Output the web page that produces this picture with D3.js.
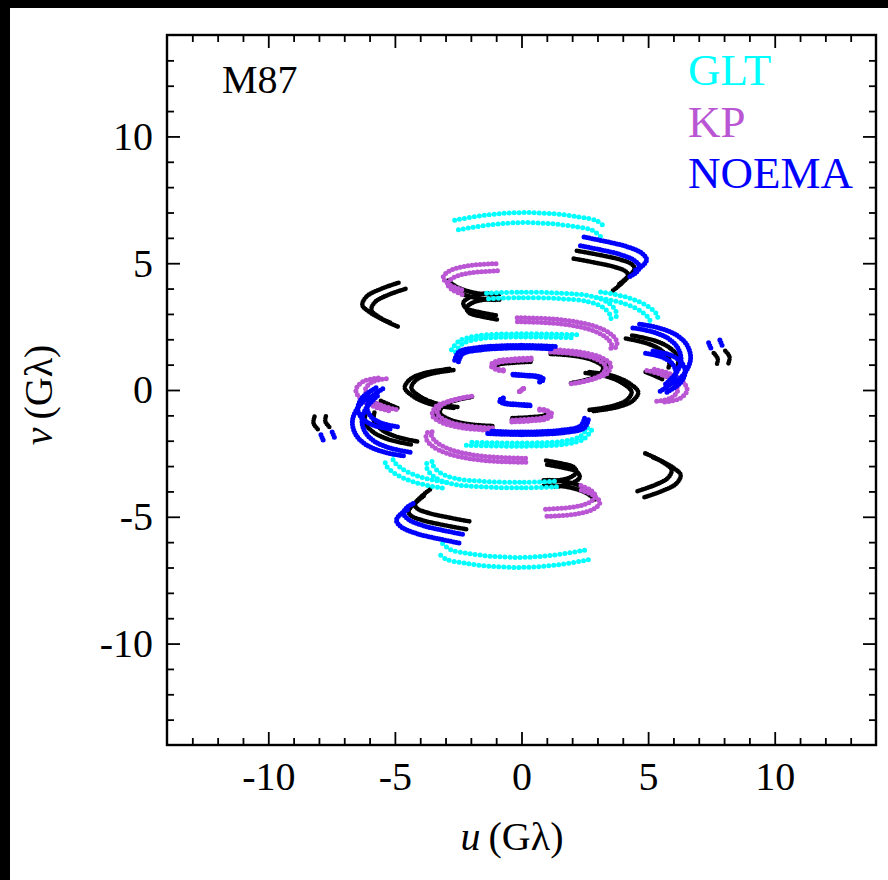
<!DOCTYPE html>
<html>
<head>
<meta charset="utf-8">
<script src="https://cdn.jsdelivr.net/npm/d3@7"></script>
<style>
  html, body { margin: 0; padding: 0; background: #fff; }
  svg { display: block; }
</style>
</head>
<body>
<svg id="chart" width="888" height="880"></svg>
<script>
// uv tracks of M87 (u, v in Gλ). Each track is listed once; its Hermitian
// conjugate (-u, -v) and the second observing band are drawn from it.

// Tick labels
const majorTicks = [-10, -5, 0, 5, 10];
const minorTicks = [-13, -12, -11, -9, -8, -7, -6, -4, -3, -2, -1, 1, 2, 3, 4, 6, 7, 8, 9, 11, 12, 13];

// Relative uv scale of the two frequency bands
const bandScale = [1, 1.06];

// Baselines between existing stations (black)
const base1 = [[2.06,5.18],[2.92,5.02],[3.64,4.86],[4.11,4.68],[4.21,4.51],[3.95,4.20],[3.60,3.91]];
const base2 = [[-4.58,3.99],[-5.26,3.75],[-5.77,3.48],[-5.93,3.16],[-5.65,2.89],[-5.14,2.61],[-4.86,2.49]];
const base3 = [[-2.73,4.07],[-2.41,3.83],[-1.86,3.64],[-1.23,3.56],[-0.83,3.56]];
const base4 = [[-1.26,3.60],[-1.94,3.44],[-2.17,3.24],[-2.06,3.04],[-1.54,2.89],[-0.91,2.77]];
const base5 = [[2.53,0.67],[3.44,0.51],[4.03,0.24],[4.35,-0.08],[4.15,-0.40],[3.60,-0.63],[2.65,-0.79]];
const base6 = [[1.15,1.42],[2.13,1.34],[2.85,1.16],[3.22,0.91],[3.10,0.62],[2.57,0.40],[1.90,0.26]];
const base7 = [[4.12,2.03],[4.95,1.84],[5.52,1.57],[5.83,1.22],[5.80,0.85]];
const base8 = [[4.90,0.71],[5.38,0.51],[5.60,0.40]];
const base9 = [[7.59,1.46],[7.75,1.23],[7.71,0.99]];
const base10 = [[0.36,1.11],[-0.36,1.07],[-0.91,1.00],[-1.07,0.87]];

// Baselines to GLT
const glt1 = [[-2.49,6.32],[-1.23,6.52],[-0.04,6.60],[1.15,6.56],[2.13,6.44],[2.81,6.29],[3.12,6.05]];
const glt2 = [[-1.30,3.60],[-0.04,3.64],[1.54,3.60],[2.65,3.48],[3.24,3.24],[3.52,2.92],[3.52,2.65]];
const glt3 = [[2.95,3.65],[3.99,3.43],[4.74,3.09],[5.07,2.76],[5.04,2.54]];
const glt4 = [[-2.61,1.50],[-2.33,1.82],[-1.62,2.02],[-0.04,2.09],[2.06,2.06]];

// Baselines to KP
const kp1 = [[-0.95,4.70],[-2.02,4.62],[-2.69,4.43],[-2.92,4.19],[-2.73,3.95],[-2.21,3.72]];
const kp2 = [[-0.16,2.69],[1.54,2.61],[2.73,2.37],[3.32,2.09],[3.56,1.78],[3.50,1.58]];
const kp3 = [[1.15,1.50],[2.13,1.42],[2.92,1.23],[3.32,0.95],[3.20,0.63],[2.65,0.40],[1.94,0.24]];
const kp4 = [[0.36,1.19],[-0.36,1.15],[-0.95,1.07],[-1.15,0.91],[-0.95,0.79],[-0.67,0.75]];
const kp5 = [[-0.08,-0.06],[0.10,0.08]];
const kp6 = [[4.95,0.77],[5.52,0.61],[5.98,0.35],[6.17,0.00],[5.91,-0.31],[5.22,-0.46]];

// Baselines to NOEMA
const noema1 = [[2.33,5.69],[3.12,5.53],[3.91,5.34],[4.47,5.10],[4.66,4.86],[4.51,4.62],[4.19,4.43]];
const noema2 = [[-2.49,1.11],[-2.33,1.42],[-1.62,1.58],[-0.04,1.66],[1.26,1.62]];
const noema3 = [[-0.32,0.59],[0.24,0.55],[0.63,0.51],[0.83,0.40],[0.63,0.28]];
const noema4 = [[4.40,2.45],[5.15,2.30],[5.80,2.03],[6.18,1.65],[6.30,1.16],[6.10,0.66],[5.65,0.20]];
const noema5 = [[4.90,1.45],[5.55,1.30],[5.95,1.04],[6.10,0.69],[5.92,0.27],[5.42,-0.08]];
const noema6 = [[7.39,1.86],[7.51,1.58]];

const baseTracks = [base1, base2, base3, base4, base5, base6, base7, base8, base9, base10];
const gltTracks = [glt1, glt2, glt3, glt4];
const kpTracks = [kp1, kp2, kp3, kp4, kp5, kp6];
const noemaTracks = [noema1, noema2, noema3, noema4, noema5, noema6];

const legendNames = ["GLT", "KP", "NOEMA"];
const legendColors = ["#00ffff", "#ba55d3", "#0000ff"];

const W = 888, H = 880;
const svg = d3.select("#chart");
const serif = "'Liberation Serif', 'DejaVu Serif', serif";

svg.append("rect").attr("width", W).attr("height", H).attr("fill", "#fff");
// dark edge strips
svg.append("rect").attr("x", 0).attr("y", 0).attr("width", W).attr("height", 8).attr("fill", "#000");
svg.append("rect").attr("x", 0).attr("y", 0).attr("width", 10).attr("height", H).attr("fill", "#000");

const x = d3.scaleLinear().domain([-14, 14]).range([167, 876]);
const y = d3.scaleLinear().domain([-14, 14]).range([745, 35]);

svg.append("clipPath").attr("id", "plot-clip")
  .append("rect")
  .attr("x", x(-14)).attr("y", y(14))
  .attr("width", x(14) - x(-14)).attr("height", y(-14) - y(14));

const line = d3.line()
  .x(d => x(d[0]))
  .y(d => y(d[1]))
  .curve(d3.curveCatmullRom.alpha(0.5));

const layers = [
  { tracks: baseTracks, color: "#000000", width: 4.6, gap: 2.0 },
  { tracks: gltTracks, color: legendColors[0], width: 5.0, gap: 5.0 },
  { tracks: kpTracks, color: legendColors[1], width: 5.0, gap: 4.0 },
  { tracks: noemaTracks, color: legendColors[2], width: 5.0, gap: 2.8 }
];

const plot = svg.append("g").attr("clip-path", "url(#plot-clip)");

layers.forEach(layer => {
  const paths = [];
  layer.tracks.forEach(t => {
    bandScale.forEach(s => {
      [1, -1].forEach(sign => {
        paths.push(t.map(([u, v]) => [sign * s * u, sign * s * v]));
      });
    });
  });
  plot.append("g")
    .selectAll("path")
    .data(paths)
    .join("path")
    .attr("d", line)
    .attr("fill", "none")
    .attr("stroke", layer.color)
    .attr("stroke-width", layer.width)
    .attr("stroke-linecap", "round")
    .attr("stroke-dasharray", `0 ${layer.gap}`);
});

// Axes with inward ticks on all four sides
const fmt = d => String(d);
function styleAxis(g) {
  g.select(".domain").remove();
  g.selectAll(".tick line").attr("stroke", "#000").attr("stroke-width", 1.8);
  g.selectAll(".tick text")
    .attr("fill", "#000")
    .style("font-family", serif)
    .style("font-size", "40px");
}

const x0 = x(-14), x1 = x(14), y0 = y(-14), y1 = y(14);

svg.append("g").attr("transform", `translate(0,${y0})`)
  .call(d3.axisBottom(x).tickValues(majorTicks).tickSize(-13).tickPadding(17).tickFormat(fmt))
  .call(styleAxis);
svg.append("g").attr("transform", `translate(0,${y0})`)
  .call(d3.axisBottom(x).tickValues(minorTicks).tickSize(-7).tickFormat(""))
  .call(styleAxis);

svg.append("g").attr("transform", `translate(0,${y1})`)
  .call(d3.axisTop(x).tickValues(majorTicks).tickSize(-13).tickFormat(""))
  .call(styleAxis);
svg.append("g").attr("transform", `translate(0,${y1})`)
  .call(d3.axisTop(x).tickValues(minorTicks).tickSize(-7).tickFormat(""))
  .call(styleAxis);

svg.append("g").attr("transform", `translate(${x0},0)`)
  .call(d3.axisLeft(y).tickValues(majorTicks).tickSize(-13).tickPadding(14).tickFormat(fmt))
  .call(styleAxis);
svg.append("g").attr("transform", `translate(${x0},0)`)
  .call(d3.axisLeft(y).tickValues(minorTicks).tickSize(-7).tickFormat(""))
  .call(styleAxis);

svg.append("g").attr("transform", `translate(${x1},0)`)
  .call(d3.axisRight(y).tickValues(majorTicks).tickSize(-13).tickFormat(""))
  .call(styleAxis);
svg.append("g").attr("transform", `translate(${x1},0)`)
  .call(d3.axisRight(y).tickValues(minorTicks).tickSize(-7).tickFormat(""))
  .call(styleAxis);

// frame
svg.append("rect")
  .attr("x", x0).attr("y", y1)
  .attr("width", x1 - x0).attr("height", y0 - y1)
  .attr("fill", "none").attr("stroke", "#000").attr("stroke-width", 2.4);

// axis titles
const xt = svg.append("text")
  .attr("x", 512).attr("y", 850)
  .attr("text-anchor", "middle")
  .style("font-family", serif).style("font-size", "40px");
xt.append("tspan").style("font-style", "italic").text("u");
xt.append("tspan").text("\u2009(Gλ)");

const yt = svg.append("text")
  .attr("transform", "translate(52,395) rotate(-90)")
  .attr("text-anchor", "middle")
  .style("font-family", serif).style("font-size", "40px");
yt.append("tspan").style("font-style", "italic").text("v");
yt.append("tspan").text("\u2009(Gλ)");

// source name
svg.append("text")
  .attr("x", 222).attr("y", 93)
  .style("font-family", serif).style("font-size", "40px")
  .text("M87");

// legend
svg.append("g").selectAll("text")
  .data(legendNames)
  .join("text")
  .attr("x", 688)
  .attr("y", (d, i) => 85 + i * 51.5)
  .attr("fill", (d, i) => legendColors[i])
  .style("font-family", serif).style("font-size", "45px")
  .text(d => d);
</script>
</body>
</html>
